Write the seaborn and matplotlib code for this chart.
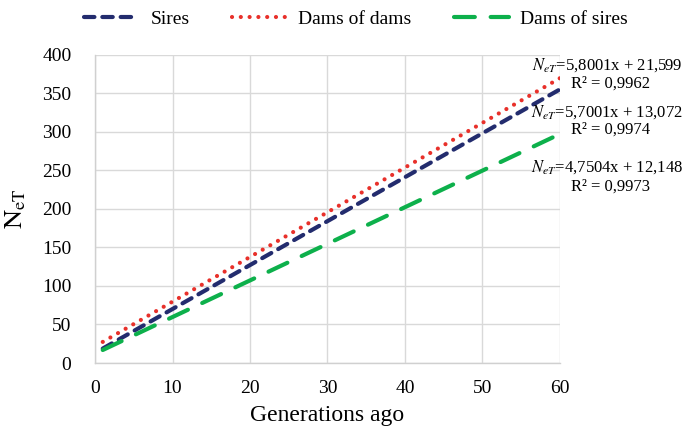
import numpy as np
import pandas as pd
import matplotlib
matplotlib.use("Agg")
import matplotlib.pyplot as plt
import seaborn as sns

# Linear trends of effective population size by pedigree path
series = ["Sires", "Dams of dams", "Dams of sires"]
slopes = [5.7001, 5.8001, 4.7504]
intercepts = [13.072, 21.599, 12.148]
r_squared = ["0,9974", "0,9962", "0,9973"]
generations = [1, 60]

x_ticks = [0, 10, 20, 30, 40, 50, 60]
y_ticks = [0, 50, 100, 150, 200, 250, 300, 350, 400]

rows = []
for name, a, b in zip(series, slopes, intercepts):
    for g in generations:
        rows.append({"Generations ago": g, "NeT": a * g + b, "Path": name})
df = pd.DataFrame(rows)

sns.set_theme(style="white", rc={"text.color": "black", "axes.labelcolor": "black",
                                 "xtick.color": "black", "ytick.color": "black"})
plt.rcParams["font.family"] = ["Liberation Serif", "DejaVu Serif"]
plt.rcParams["mathtext.fontset"] = "stix"

fig = plt.figure(figsize=(6.85, 4.29), dpi=100)
ax = fig.add_axes([0.1387, 0.1538, 0.8175 - 0.1387, 0.8725 - 0.1538])

palette = {"Sires": "#232C6E", "Dams of dams": "#E8302A", "Dams of sires": "#0DB04B"}
dashes = {"Sires": (2.5, 1.9), "Dams of dams": (0.01, 2.1), "Dams of sires": (5.0, 3.8)}

sns.lineplot(data=df, x="Generations ago", y="NeT", hue="Path", style="Path",
             hue_order=series, style_order=series, palette=palette,
             dashes=dashes, linewidth=3.0, ax=ax, legend=True)
for line in ax.get_lines():
    line.set_dash_capstyle("round")
    line.set_solid_capstyle("round")

ax.set_xlim(0, 60)
ax.set_ylim(0, 400)
ax.set_xticks(x_ticks)
ax.set_yticks(y_ticks)
ax.tick_params(axis="both", labelsize=14, length=0)
ax.tick_params(axis="x", pad=12)
ax.tick_params(axis="y", pad=17)
ax.grid(True, color="#D9D9D9", linewidth=1.0)
for side in ["top", "right"]:
    ax.spines[side].set_visible(False)
for side in ["left", "bottom"]:
    ax.spines[side].set_color("#D0D0D0")
    ax.spines[side].set_linewidth(1.0)

ax.set_xlabel("Generations ago", fontsize=17, labelpad=6)
ax.set_ylabel(r"$\mathrm{N_{eT}}$", fontsize=19, labelpad=10)

handles, labels = ax.get_legend_handles_labels()
for h in handles:
    h.set_dash_capstyle("round")
ax.legend(handles, labels, loc="center", ncol=3,
          bbox_to_anchor=(0.52, 0.956), bbox_transform=fig.transFigure,
          frameon=False, fontsize=14,
          handlelength=2.8, columnspacing=2.2, handletextpad=0.6)

# Regression equations beside the line ends
eq_y = {"Dams of dams": 0.848, "Sires": 0.739, "Dams of sires": 0.611}
r2_y = {"Dams of dams": 0.804, "Sires": 0.697, "Dams of sires": 0.566}
for name, a, b, r2 in zip(series, slopes, intercepts, r_squared):
    a_txt = f"{a:.4f}".replace(".", ",")
    b_txt = f"{b:.3f}".replace(".", ",")
    fig.text(0.997, eq_y[name], r"$N_{eT}$" + f"={a_txt}x + {b_txt}", ha="right",
             va="center", fontsize=12, color="black")
    fig.text(0.949, r2_y[name], f"R² = {r2}", ha="right", va="center",
             fontsize=12, color="black")

fig.savefig("out.png", dpi=100)
